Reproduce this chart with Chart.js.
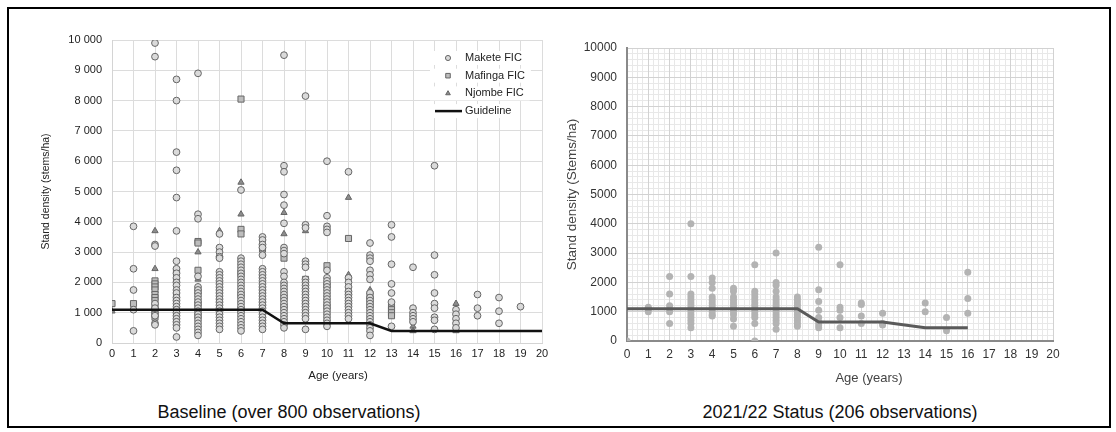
<!DOCTYPE html>
<html>
<head>
<meta charset="utf-8">
<title>Stand density by age</title>
<script src="https://cdn.jsdelivr.net/npm/chart.js@4.4.1/dist/chart.umd.min.js"></script>
<style>
  body { margin: 0; background: #fff; font-family: Arial, "Liberation Sans", sans-serif; }
  #frame { position: absolute; left: 7px; top: 7px; width: 1104px; height: 421px; box-sizing: border-box; border: 2px solid #000; }
  .chart-box { position: absolute; top: 0; }
  #statusBox { filter: blur(0.45px); }
  .axis-title { position: absolute; transform: translate(-50%, -50%); white-space: nowrap; }
  .caption { position: absolute; top: 402px; font-size: 18px; color: #111; transform: translateX(-50%); white-space: nowrap; }
</style>
</head>
<body>
<div id="frame"></div>
<div class="chart-box" style="left:0"><canvas id="baselineChart" width="558" height="400"></canvas></div>
<div class="chart-box" id="statusBox" style="left:558px"><canvas id="statusChart" width="558" height="400"></canvas></div>
<div class="axis-title" style="left:338px; top:375px; font-size:11.5px; color:#222">Age (years)</div>
<div class="axis-title" style="left:869px; top:377px; font-size:13px; color:#444; filter: blur(0.45px)">Age (years)</div>
<div class="caption" style="left:289px">Baseline (over 800 observations)</div>
<div class="caption" style="left:840px">2021/22 Status (206 observations)</div>

<script>
// --- Data: stand density (stems/ha), one list per age 0..20 ---

const makete = [
  [],
  [3850, 2450, 1750, 1100, 400],
  [9900, 9450, 3250, 3200, 1300, 1150, 900, 650, 600],
  [8700, 8000, 6300, 5700, 4800, 3700, 2700, 2450, 2300, 2150, 2000, 1900, 1750, 1650, 1500, 1400, 1300, 1200, 1100, 1000, 900, 800, 700, 600, 500, 200],
  [8900, 4250, 4100, 2200, 1850, 1750, 1650, 1550, 1450, 1350, 1250, 1150, 1050, 950, 850, 750, 650, 550, 450, 350, 250],
  [3600, 3150, 3000, 2850, 2800, 2350, 2250, 2150, 2050, 1950, 1850, 1750, 1650, 1550, 1450, 1350, 1250, 1150, 1050, 950, 850, 750, 650, 550, 450],
  [5050, 2800, 2700, 2600, 2500, 2400, 2300, 2200, 2100, 2000, 1900, 1800, 1700, 1600, 1500, 1400, 1300, 1200, 1100, 1000, 900, 800, 700, 600, 500, 400],
  [3500, 3400, 3250, 3150, 2900, 2450, 2350, 2250, 2150, 2050, 1950, 1850, 1750, 1650, 1550, 1450, 1350, 1250, 1150, 1050, 950, 850, 750, 650, 550, 450],
  [9500, 5850, 5650, 4900, 4550, 3950, 3150, 3050, 2950, 2350, 2200, 2000, 1900, 1800, 1700, 1600, 1500, 1400, 1300, 1200, 1100, 1000, 900, 800, 700, 600, 500],
  [8150, 3900, 3800, 2700, 2600, 2500, 2100, 2000, 1900, 1800, 1700, 1600, 1500, 1400, 1300, 1200, 1100, 1000, 900, 800, 450],
  [6000, 4200, 3850, 3750, 3650, 2400, 2150, 2050, 1950, 1850, 1750, 1650, 1550, 1450, 1350, 1250, 1150, 1050, 950, 850, 750, 650, 550],
  [5650, 2150, 2000, 1850, 1700, 1600, 1500, 1400, 1300, 1200, 1100, 1000, 900, 800],
  [3300, 2900, 2800, 2700, 2400, 2250, 2100, 1650, 1500, 1400, 1300, 1200, 1100, 1000, 900, 800, 700, 600, 500, 400, 250],
  [3900, 3500, 2600, 1950, 1650, 1350, 550],
  [2500, 1150, 1000, 900, 800, 700],
  [5850, 2900, 2250, 1650, 1300, 1150, 850, 750, 450],
  [1100, 950, 800, 650, 500],
  [1600, 1150, 900],
  [1500, 1050, 650],
  [1200],
  []
];

const mafinga = [
  [1300],
  [1300],
  [2050, 1950, 1850, 1750, 1600, 1500, 1400, 1200, 1050, 950, 850],
  [2400, 2300, 2050, 1600, 1450, 1050, 850, 650],
  [3350, 3300, 2400, 1700, 1300, 900],
  [2000, 1700, 1400, 1000],
  [8050, 3750, 3600, 2300, 1600, 1100],
  [3200, 3100, 2200, 1800, 1300],
  [2800, 1500, 1200],
  [2100, 1300],
  [2550, 1900, 1200],
  [3450, 1650, 1300],
  [1550, 1450, 1250],
  [1200, 1100, 1000, 900]
];

const njombe = [
  [1050],
  [],
  [3700, 2450],
  [2100, 1500, 500],
  [3000, 2100, 1400, 600],
  [3700, 1900, 1200],
  [5300, 4250, 1400],
  [1700, 900],
  [4300, 3600, 1700],
  [3700, 1500],
  [1500, 800],
  [4800, 2250, 1300],
  [1750, 900],
  [1950],
  [550, 400],
  [],
  [1300, 400]
];

const survey2122 = [
  [0],
  [1150, 1100, 1000],
  [2200, 1600, 1200, 1000, 600],
  [4000, 2200, 1600, 1500, 1400, 1300, 1200, 1100, 1000, 900, 800, 700, 600, 450],
  [2150, 2000, 1800, 1500, 1400, 1300, 1200, 1100, 1000, 900, 850],
  [1800, 1700, 1500, 1400, 1300, 1200, 1100, 1000, 900, 750, 500],
  [2600, 1700, 1600, 1500, 1400, 1300, 1200, 1100, 1000, 900, 800, 600, 0],
  [3000, 2000, 1900, 1700, 1500, 1400, 1300, 1200, 1100, 1000, 900, 800, 700, 600, 400],
  [1500, 1400, 1300, 1200, 1100, 1000, 900, 800, 700, 600, 500],
  [3200, 1750, 1350, 1050, 800, 650, 550, 450],
  [2600, 1150, 1050, 800, 450],
  [1300, 1250, 850, 600],
  [950, 600, 550],
  [],
  [1300, 1000],
  [800, 350],
  [2350, 1450, 950]
];

// Thinning guideline (age -> stems/ha)
const guideAgesBaseline = [0, 7, 8, 12, 13, 20];
const guideDensityBaseline = [1100, 1100, 650, 650, 400, 400];
const guideAgesStatus = [0, 8, 9, 12, 14, 16];
const guideDensityStatus = [1100, 1100, 650, 650, 450, 450];

const ageTicks = { min: 0, max: 20, step: 1 };
const densityTicks = { min: 0, max: 10000, step: 1000 };

// --- Helpers ---
const FONT = 'Arial, "Liberation Sans", sans-serif';

function toPoints(byAge) {
  return byAge.flatMap((vals, age) => vals.map(v => ({ x: age, y: v })));
}

function zip(xs, ys) {
  return xs.map((x, i) => ({ x: x, y: ys[i] }));
}

function spaced(v) {
  return String(v).replace(/\B(?=(\d{3})+(?!\d))/g, ' ');
}

// Legend drawn inside the plot, top right
const insideLegend = {
  id: 'insideLegend',
  afterDraw(chart, args, opts) {
    if (!opts.display) return;
    const ctx = chart.ctx;
    ctx.save();
    ctx.font = '11px ' + FONT;
    ctx.textBaseline = 'middle';
    chart.data.datasets.forEach((ds, i) => {
      const y = opts.top + i * opts.rowHeight;
      const textX = opts.left + 35;
      const w = ctx.measureText(ds.label).width;
      ctx.fillStyle = '#fff';
      ctx.fillRect(opts.left, y - 7, textX - opts.left + w + 6, 14);
      if (ds.showLine) {
        ctx.strokeStyle = ds.borderColor;
        ctx.lineWidth = ds.borderWidth;
        ctx.beginPath();
        ctx.moveTo(opts.left + 5, y);
        ctx.lineTo(textX - 3, y);
        ctx.stroke();
      } else {
        ctx.fillStyle = ds.backgroundColor;
        ctx.strokeStyle = ds.borderColor;
        Chart.helpers.drawPoint(ctx, { pointStyle: ds.pointStyle, radius: ds.pointRadius * 0.75, borderWidth: 1, rotation: 0 }, opts.left + 18, y);
      }
      ctx.fillStyle = '#222';
      ctx.fillText(ds.label, textX, y);
    });
    ctx.restore();
  }
};

// --- Baseline chart ---
new Chart(document.getElementById('baselineChart'), {
  type: 'scatter',
  data: {
    datasets: [
      { label: 'Makete FIC', data: toPoints(makete), pointStyle: 'circle', pointRadius: 3.4, backgroundColor: '#dadada', borderColor: '#666', borderWidth: 1, order: 1 },
      { label: 'Mafinga FIC', data: toPoints(mafinga), pointStyle: 'rect', pointRadius: 4.3, backgroundColor: '#bdbdbd', borderColor: '#666', borderWidth: 1, order: 1 },
      { label: 'Njombe FIC', data: toPoints(njombe), pointStyle: 'triangle', pointRadius: 3.6, backgroundColor: '#8c8c8c', borderColor: '#666', borderWidth: 1, order: 1 },
      { label: 'Guideline', data: zip(guideAgesBaseline, guideDensityBaseline), showLine: true, pointRadius: 0, borderColor: '#111', borderWidth: 2.5, order: 0 }
    ]
  },
  options: {
    responsive: false,
    animation: false,
    layout: { padding: { left: 37, top: 40, right: 16, bottom: 15 } },
    plugins: {
      legend: { display: false },
      tooltip: { enabled: false },
      insideLegend: { display: true, left: 430, top: 58, rowHeight: 17.7 }
    },
    scales: {
      x: {
        type: 'linear', min: ageTicks.min, max: ageTicks.max,
        ticks: { stepSize: ageTicks.step, autoSkip: false, padding: 4, color: '#222', font: { family: FONT, size: 11 } },
        grid: { color: '#dcdcdc', drawTicks: false },
        border: { color: '#d4d4d4' },
        afterFit: s => { s.height = 42; }
      },
      y: {
        min: densityTicks.min, max: densityTicks.max,
        ticks: { stepSize: densityTicks.step, padding: 10, color: '#222', font: { family: FONT, size: 11 }, callback: v => spaced(v) },
        grid: { color: '#dcdcdc', drawTicks: false },
        border: { color: '#d4d4d4' },
        title: { display: true, text: 'Stand density (stems/ha)', color: '#222', font: { family: FONT, size: 10.5 }, padding: { top: 3, bottom: 4 } },
        afterFit: s => { s.width = 75; }
      }
    }
  },
  plugins: [insideLegend]
});

// --- 2021/22 status chart ---
new Chart(document.getElementById('statusChart'), {
  type: 'scatter',
  data: {
    datasets: [
      { label: 'Guideline', data: zip(guideAgesStatus, guideDensityStatus), showLine: true, pointRadius: 0, borderColor: '#5a5a5a', borderWidth: 3, order: 0 },
      { label: '2021/22', data: toPoints(survey2122), pointStyle: 'circle', pointRadius: 3.5, backgroundColor: '#b3b3b3', borderWidth: 0, order: 1 }
    ]
  },
  options: {
    responsive: false,
    animation: false,
    layout: { padding: { left: 2, top: 48, right: 63, bottom: 11 } },
    plugins: { legend: { display: false }, tooltip: { enabled: false } },
    scales: {
      // fine graph-paper grid
      xMinor: {
        type: 'linear', position: 'bottom', min: ageTicks.min, max: ageTicks.max, z: -1,
        ticks: { display: false, stepSize: 0.25 },
        grid: { color: '#e8e8e8', drawTicks: false },
        border: { display: false },
        afterFit: s => { s.height = 0; }
      },
      yMinor: {
        type: 'linear', position: 'left', min: densityTicks.min, max: densityTicks.max, z: -1,
        ticks: { display: false, stepSize: 200 },
        grid: { color: '#e8e8e8', drawTicks: false },
        border: { display: false },
        afterFit: s => { s.width = 0; }
      },
      x: {
        type: 'linear', position: 'bottom', min: ageTicks.min, max: ageTicks.max,
        ticks: { stepSize: ageTicks.step, autoSkip: false, padding: 6, color: '#333', font: { family: FONT, size: 12 } },
        grid: { color: '#d2d2d2', drawTicks: false },
        border: { color: '#8a8a8a', width: 2 },
        afterFit: s => { s.height = 48; }
      },
      y: {
        position: 'left', min: densityTicks.min, max: densityTicks.max,
        ticks: { stepSize: densityTicks.step, padding: 10, color: '#333', font: { family: FONT, size: 12 }, callback: v => String(v) },
        grid: { color: '#d2d2d2', drawTicks: false },
        border: { color: '#8a8a8a', width: 2 },
        title: { display: true, text: 'Stand density (Stems/ha)', color: '#444', font: { family: FONT, size: 13.5 }, padding: { top: 4, bottom: 4 } },
        afterFit: s => { s.width = 67; }
      }
    }
  }
});
</script>
</body>
</html>
